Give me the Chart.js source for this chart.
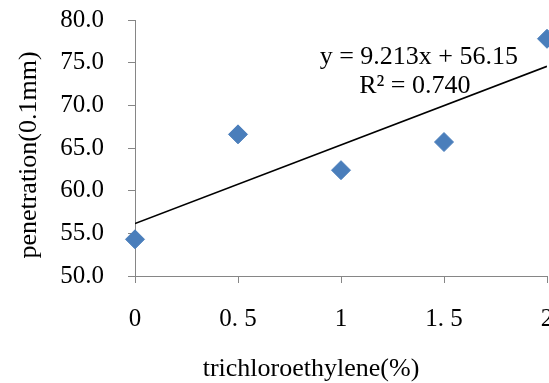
<!DOCTYPE html>
<html>
<head>
<meta charset="utf-8">
<script src="https://cdn.jsdelivr.net/npm/chart.js@4"></script>
<style>
  html, body { margin: 0; padding: 0; background: #ffffff; }
  #wrap { width: 549px; height: 383px; }
</style>
</head>
<body>
<div id="wrap"><canvas id="c" width="549" height="383"></canvas></div>
<script>
// ---- data ----
const xValues = [0, 0.5, 1, 1.5, 2];
const penetration = [54.3, 66.6, 62.4, 65.7, 77.8];
const xTickLabels = ['0', '0. 5', '1', '1. 5', '2'];
const yTickLabels = ['50.0', '55.0', '60.0', '65.0', '70.0', '75.0', '80.0'];
const trendSlope = 9.213;
const trendIntercept = 56.15;
const trendX = [0, 2];
const equationLines = ['y = 9.213x + 56.15', 'R\u00B2 = 0.740'];
const xTitle = 'trichloroethylene(%)';
const yTitle = 'penetration(0.1mm)';

const FONT = '"Liberation Serif", "Times New Roman", serif';
const AXIS_GREY = '#868686';

const scatterPoints = xValues.map((x, i) => ({ x: x, y: penetration[i] }));
const trendPoints = trendX.map(x => ({ x: x, y: trendSlope * x + trendIntercept }));

const textPlugin = {
  id: 'chartTexts',
  afterDatasetsDraw(chart) {
    const ctx = chart.ctx;
    const xs = chart.scales.x, ys = chart.scales.y;
    ctx.save();
    ctx.fillStyle = '#000000';
    ctx.font = '26px ' + FONT;
    ctx.textAlign = 'center';
    ctx.textBaseline = 'middle';
    // trendline equation
    const cx = xs.getPixelForValue(1.378);
    ctx.fillText(equationLines[0], cx, ys.getPixelForValue(75.6));
    ctx.fillText(equationLines[1], cx - 4, ys.getPixelForValue(72.3));
    // axis titles
    ctx.fillText(xTitle, 311, 369);
    ctx.translate(29, 155);
    ctx.rotate(-Math.PI / 2);
    ctx.fillText(yTitle, 0, 0);
    ctx.restore();
  }
};

new Chart(document.getElementById('c'), {
  type: 'scatter',
  data: {
    datasets: [
      {
        type: 'line',
        label: 'trend',
        data: trendPoints,
        borderColor: '#000000',
        borderWidth: 1.6,
        pointRadius: 0,
        fill: false,
        tension: 0,
        order: 2
      },
      {
        label: 'penetration',
        data: scatterPoints,
        pointStyle: 'rectRot',
        pointRadius: 9.5,
        pointHoverRadius: 9.5,
        backgroundColor: '#4A7EBB',
        borderColor: '#4A7EBB',
        borderWidth: 1,
        clip: false,
        order: 1
      }
    ]
  },
  options: {
    responsive: false,
    animation: false,
    events: [],
    layout: { autoPadding: false, padding: { left: 0, right: 2, top: 20, bottom: 0 } },
    plugins: { legend: { display: false }, tooltip: { enabled: false }, title: { display: false } },
    scales: {
      x: {
        type: 'linear',
        min: 0,
        max: 2,
        afterFit(scale) { scale.height = 107; scale.paddingLeft = 0; scale.paddingRight = 0; },
        ticks: {
          stepSize: 0.5,
          color: '#000000',
          font: { family: FONT, size: 25 },
          padding: 21,
          maxRotation: 0,
          autoSkip: false,
          callback: (v, i) => xTickLabels[i]
        },
        grid: { drawOnChartArea: false, drawTicks: true, tickLength: 7, color: AXIS_GREY, lineWidth: 1 },
        border: { display: true, color: AXIS_GREY, width: 1 },
        title: { display: false }
      },
      y: {
        type: 'linear',
        min: 50,
        max: 80,
        afterFit(scale) { scale.width = 135; scale.paddingTop = 0; scale.paddingBottom = 0; },
        ticks: {
          stepSize: 5,
          color: '#000000',
          font: { family: FONT, size: 25 },
          padding: 24,
          callback: (v, i) => yTickLabels[i]
        },
        grid: { drawOnChartArea: false, drawTicks: true, tickLength: 7, color: AXIS_GREY, lineWidth: 1 },
        border: { display: true, color: AXIS_GREY, width: 1 },
        title: { display: false }
      }
    }
  },
  plugins: [textPlugin]
});
</script>
</body>
</html>
